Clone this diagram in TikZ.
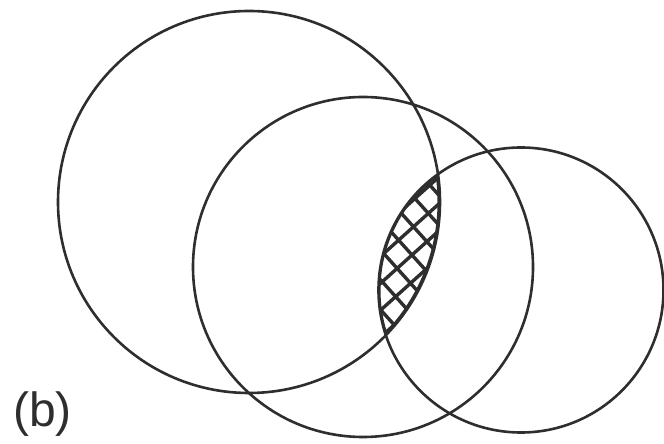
\documentclass[tikz,border=0pt]{standalone}
\usepackage{fontspec}
\setmainfont{Liberation Sans}
\usepackage{tikz}
\usetikzlibrary{positioning}
\definecolor{vennInk}{HTML}{2E2E2E}
\tikzset{
  setcircle/.style={draw=vennInk,line width=2.6pt},
  hatchline/.style={draw=vennInk,line width=3.4pt},
  lensedge/.style={draw=vennInk,line width=5pt},
  panellabel/.style={text=vennInk,inner sep=0pt,font=\fontsize{48}{50}\selectfont}
}
\begin{document}
\begin{tikzpicture}[x=1pt,y=1pt]
  \useasboundingbox (0,0) rectangle (664,444);
  \coordinate (bigC) at (249,242);
  \coordinate (midC) at (363,177);
  \coordinate (rightC) at (521,154);
  \coordinate (lens) at (412,189);
  % hatched overlap of the three sets
  \begin{scope}
    \clip (bigC) circle (191);
    \clip (rightC) circle (143);
    \begin{scope}[shift={(lens)},rotate=42]
      \draw[hatchline] (-120,-120) grid[step=20pt] (120,120);
    \end{scope}
    \draw[lensedge] (bigC) circle (191);
    \draw[lensedge] (rightC) circle (143);
  \end{scope}
  % the three sets
  \draw[setcircle] (bigC) circle (191);
  \draw[setcircle] (midC) circle (170);
  \draw[setcircle] (rightC) circle (142.5);
  \node[panellabel,anchor=base west] (label) at (13,17) {(b)};
\end{tikzpicture}
\end{document}
